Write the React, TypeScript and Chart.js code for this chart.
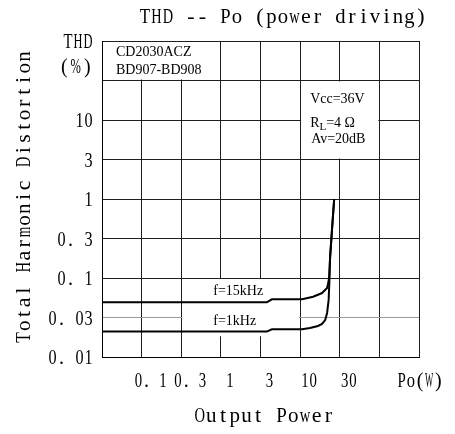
import React, { useEffect, useRef } from "react";
import { Chart, registerables } from "chart.js";

Chart.register(...registerables);

// ---- data ----
// Output power in W, THD in %
const POWER_15K = [0.0316, 3.8, 4.4, 10.6, 14.6, 18.9, 21.9, 22.6, 23.2, 23.9, 25.9, 26.9];
const THD_15K = [0.0493, 0.0493, 0.0538, 0.054, 0.058, 0.0645, 0.0746, 0.0862, 0.1, 0.185, 0.59, 1.0];

const POWER_1K = [0.0316, 3.8, 4.4, 10.6, 13.3, 16.8, 18.9, 20.7, 21.9, 22.9, 23.3, 23.9, 25.9, 26.9];
const THD_1K = [0.021, 0.021, 0.0224, 0.0225, 0.0233, 0.0247, 0.0262, 0.0294, 0.0361, 0.0528, 0.0814, 0.185, 0.59, 1.0];

// tick labels: grid index -> label
const X_TICK_LABELS = ["", "0. 1", "0. 3", "1", "3", "10", "30", "", ""];
const Y_TICK_LABELS = ["0. 01", "0. 03", "0. 1", "0. 3", "1", "3", "10", "", ""];

const TITLE = "THD -- Po (power driving)";
const X_TITLE = "Output Power";
const Y_TITLE = "Total Harmonic Distortion";
const X_UNIT = "Po(W)";
const Y_UNIT = ["THD", "(%)"];
const DEVICE_NOTES = ["CD2030ACZ", "BD907-BD908"];
const CONDITIONS = ["Vcc=36V", "RL=4 Ω", "Av=20dB"];
const SERIES_NAMES = ["f=15kHz", "f=1kHz"];

// half-decade grid: each grid step = factor sqrt(10)
const xPos = (p: number) => 3 + 2 * Math.log10(p);
const yPos = (t: number) => 4 + 2 * Math.log10(t);

const SERIF = '"Liberation Serif", "DejaVu Serif", serif';

function drawMono(
  ctx: CanvasRenderingContext2D,
  text: string,
  x: number,
  y: number,
  pitch: number,
  size: number,
  align: "left" | "center" | "right"
) {
  const total = pitch * text.length;
  const start = align === "center" ? x - total / 2 : align === "right" ? x - total : x;
  ctx.font = `${size}px ${SERIF}`;
  ctx.textAlign = "center";
  ctx.textBaseline = "middle";
  for (let i = 0; i < text.length; i++) {
    const ch = text[i];
    if (ch === " ") continue;
    const cx = start + pitch * (i + 0.5);
    const w = ctx.measureText(ch).width;
    const maxW = pitch * 0.9;
    if (w > maxW) {
      ctx.save();
      ctx.translate(cx, y);
      ctx.scale(maxW / w, 1);
      ctx.fillText(ch, 0, 0);
      ctx.restore();
    } else {
      ctx.fillText(ch, cx, y);
    }
  }
}

// blank (white) boxes in grid units where the drawing hides the grid
const MASKS = [
  { x0: 0, x1: 3, y0: 7, y1: 8 },
  { x0: 5, x1: 7, y0: 5, y1: 7 },
  { x0: 2, x1: 5, y0: 0.5, y1: 2 },
];

const decorPlugin = {
  id: "decor",
  beforeDatasetsDraw(chart: any) {
    const { ctx, scales } = chart;
    const x = scales.x, y = scales.y;
    ctx.save();
    ctx.fillStyle = "#ffffff";
    for (const m of MASKS) {
      const l = x.getPixelForValue(m.x0) + 1;
      const r = x.getPixelForValue(m.x1) - 1;
      const t = y.getPixelForValue(m.y1) + 1;
      const b = y.getPixelForValue(m.y0) - 1;
      ctx.fillRect(l, t, r - l, b - t);
    }
    ctx.restore();
  },
  afterDraw(chart: any) {
    const { ctx, scales, chartArea } = chart;
    const x = scales.x, y = scales.y;
    ctx.save();
    ctx.fillStyle = "#000";

    // title
    drawMono(ctx, TITLE, 283, 17, 11.5, 22, "center");
    // x title
    drawMono(ctx, X_TITLE, 264, 416, 11.7, 22, "center");
    // y title
    ctx.save();
    ctx.translate(24, 197);
    ctx.rotate(-Math.PI / 2);
    drawMono(ctx, Y_TITLE, 0, 0, 11.7, 22, "center");
    ctx.restore();

    // y tick labels
    Y_TICK_LABELS.forEach((lab, i) => {
      if (!lab) return;
      drawMono(ctx, lab, chartArea.left - 9, y.getPixelForValue(i) + 2, 9, 20, "right");
    });
    drawMono(ctx, Y_UNIT[0], chartArea.left - 9, 43, 10, 20, "right");
    drawMono(ctx, Y_UNIT[1], chartArea.left - 9, 68, 11.5, 20, "right");

    // x tick labels
    X_TICK_LABELS.forEach((lab, i) => {
      if (!lab) return;
      drawMono(ctx, lab, x.getPixelForValue(i) + 9, 382, 8.2, 20, "center");
    });
    drawMono(ctx, X_UNIT, chartArea.right + 1, 382, 9.2, 20, "center");

    // annotations
    ctx.font = `14px ${SERIF}`;
    ctx.textAlign = "left";
    ctx.textBaseline = "middle";
    const nx = x.getPixelForValue(0) + 14;
    ctx.fillText(DEVICE_NOTES[0], nx, 52);
    ctx.fillText(DEVICE_NOTES[1], nx, 70);

    const cx = x.getPixelForValue(5) + 10;
    ctx.fillText(CONDITIONS[0], cx, 99);
    // R with subscript L
    const rl = CONDITIONS[1];
    ctx.fillText(rl[0], cx, 123);
    let w = ctx.measureText(rl[0]).width;
    ctx.font = `11px ${SERIF}`;
    ctx.fillText(rl[1], cx + w, 127);
    w += ctx.measureText(rl[1]).width;
    ctx.font = `14px ${SERIF}`;
    ctx.fillText(rl.slice(2), cx + w, 123);
    ctx.fillText(CONDITIONS[2], cx + 1, 139);

    const fx = x.getPixelForValue(2) + 32;
    ctx.fillText(SERIES_NAMES[0], fx, 291);
    ctx.fillText(SERIES_NAMES[1], fx, 321);

    ctx.restore();
  },
};

export default function App() {
  const ref = useRef<HTMLCanvasElement | null>(null);

  useEffect(() => {
    if (!ref.current) return;
    const mk = (ps: number[], ts: number[]) => ps.map((p, i) => ({ x: xPos(p), y: yPos(ts[i]) }));
    const gridColor = (c: any) => (c.tick && c.tick.value === 1 ? "#9a9a9a" : "#1e1e1e");
    const chart = new Chart(ref.current, {
      type: "line",
      data: {
        datasets: [
          {
            label: SERIES_NAMES[0],
            data: mk(POWER_15K, THD_15K),
            borderColor: "#000",
            borderWidth: 2,
            pointRadius: 0,
            tension: 0,
            fill: false,
          },
          {
            label: SERIES_NAMES[1],
            data: mk(POWER_1K, THD_1K),
            borderColor: "#000",
            borderWidth: 2,
            pointRadius: 0,
            tension: 0,
            fill: false,
          },
        ],
      },
      options: {
        animation: false,
        responsive: false,
        events: [],
        layout: { padding: { left: 102, right: 36, top: 41, bottom: 77 } },
        plugins: {
          legend: { display: false },
          tooltip: { enabled: false },
          title: { display: false },
        },
        scales: {
          x: {
            type: "linear",
            min: 0,
            max: 8,
            ticks: { display: false, stepSize: 1 },
            grid: { drawTicks: false, color: "#1e1e1e", lineWidth: 1 },
            border: { color: "#000", width: 1 },
          },
          y: {
            type: "linear",
            min: 0,
            max: 8,
            ticks: { display: false, stepSize: 1 },
            grid: { drawTicks: false, color: gridColor, lineWidth: 1 },
            border: { color: "#000", width: 1 },
          },
        },
      },
      plugins: [decorPlugin],
    } as any);
    return () => chart.destroy();
  }, []);

  return (
    <div style={{ position: "absolute", left: 0, top: 0, width: 455, height: 434, background: "#fff" }}>
      <canvas ref={ref} width={455} height={434} style={{ display: "block" }} />
    </div>
  );
}
